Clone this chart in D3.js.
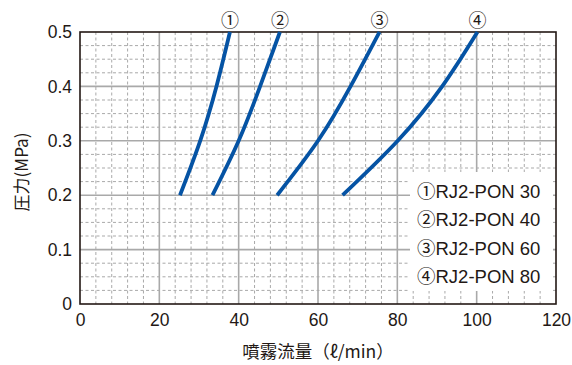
<!DOCTYPE html>
<html>
<head>
<meta charset="utf-8">
<script src="https://cdn.jsdelivr.net/npm/d3@7"></script>
<style>
  html, body { margin: 0; padding: 0; background: #fff; }
  svg { display: block; }
  text { font-family: "Liberation Sans", Arial, "Noto Sans CJK JP", sans-serif; fill: #231815; }
</style>
</head>
<body>
<svg id="chart" width="572" height="365"></svg>
<script>
// Spray flow rate vs. pressure for four nozzle models
const models = ["RJ2-PON 30", "RJ2-PON 40", "RJ2-PON 60", "RJ2-PON 80"];
const marks = ["①", "②", "③", "④"];
const pressures = [0.2, 0.3, 0.4, 0.5];
const flowPon30 = [25.2, 30.3, 34.4, 37.8];
const flowPon40 = [33.4, 40.0, 45.4, 50.4];
const flowPon60 = [49.7, 60.0, 68.2, 75.5];
const flowPon80 = [66.2, 80.1, 91.3, 100.2];
const xTicks = [0, 20, 40, 60, 80, 100, 120];
const yTicks = [0, 0.1, 0.2, 0.3, 0.4, 0.5];
const xLabel = "噴霧流量（ℓ/min）";
const yLabel = "圧力(MPa)";

const series = [flowPon30, flowPon40, flowPon60, flowPon80];

const svg = d3.select("#chart");
const m = { left: 80, top: 32, right: 556, bottom: 304 };

const x = d3.scaleLinear().domain([0, 120]).range([m.left, m.right]);
const y = d3.scaleLinear().domain([0, 0.5]).range([m.bottom, m.top]);

const grid = svg.append("g");
const ink = "#231815";
const gridColor = "#a9a9a9";

// minor dashed grid
const xMinor = d3.range(4, 120, 4).filter(v => v % 20 !== 0);
const yMinor = d3.range(1, 20).map(i => i * 0.025).filter((v, i) => (i + 1) % 4 !== 0);
grid.selectAll(".xm").data(xMinor).join("line")
  .attr("x1", d => x(d)).attr("x2", d => x(d))
  .attr("y1", m.top).attr("y2", m.bottom)
  .attr("stroke", gridColor).attr("stroke-width", 1).attr("stroke-dasharray", "3,2.5");
grid.selectAll(".ym").data(yMinor).join("line")
  .attr("x1", m.left).attr("x2", m.right)
  .attr("y1", d => y(d)).attr("y2", d => y(d))
  .attr("stroke", gridColor).attr("stroke-width", 1).attr("stroke-dasharray", "3,2.5");

// major solid grid
grid.selectAll(".xM").data(xTicks.slice(1, -1)).join("line")
  .attr("x1", d => x(d)).attr("x2", d => x(d))
  .attr("y1", m.top).attr("y2", m.bottom)
  .attr("stroke", gridColor).attr("stroke-width", 1.6);
grid.selectAll(".yM").data(yTicks.slice(1, -1)).join("line")
  .attr("x1", m.left).attr("x2", m.right)
  .attr("y1", d => y(d)).attr("y2", d => y(d))
  .attr("stroke", gridColor).attr("stroke-width", 1.6);

// legend panel covering the grid
const lg = svg.append("g");
lg.append("rect")
  .attr("x", 410).attr("y", 172).attr("width", 143).attr("height", 119)
  .attr("fill", "#fff");

// frame
svg.append("rect")
  .attr("x", m.left).attr("y", m.top)
  .attr("width", m.right - m.left).attr("height", m.bottom - m.top)
  .attr("fill", "none").attr("stroke", ink).attr("stroke-width", 1.6);

// curves
const line = d3.line()
  .x(d => x(d[0])).y(d => y(d[1]))
  .curve(d3.curveNatural);
svg.selectAll(".curve").data(series).join("path")
  .attr("d", s => line(s.map((v, i) => [v, pressures[i]])))
  .attr("fill", "none").attr("stroke", "#0553a4").attr("stroke-width", 3.8)
  .attr("stroke-linecap", "butt");

// curve markers above the frame
svg.selectAll(".mark").data(series).join("text")
  .attr("x", s => x(s[s.length - 1]))
  .attr("y", 27)
  .attr("text-anchor", "middle")
  .style("font-size", "18px")
  .style("font-family", "'Noto Sans CJK JP', sans-serif")
  .text((s, i) => marks[i]);

// axis tick labels
const axX = d3.axisBottom(x).tickValues(xTicks).tickSize(0).tickPadding(10).tickFormat(d3.format("d"));
const gx = svg.append("g").attr("transform", `translate(0,${m.bottom})`).call(axX);
gx.select(".domain").remove();
gx.selectAll("text").style("font-size", "17.5px").attr("fill", ink);

const axY = d3.axisLeft(y).tickValues(yTicks).tickSize(0).tickPadding(8)
  .tickFormat(d => d === 0 ? "0" : d3.format(".1f")(d));
const gy = svg.append("g").attr("transform", `translate(${m.left},0)`).call(axY);
gy.select(".domain").remove();
gy.selectAll("text").style("font-size", "17.5px").attr("fill", ink);

// legend entries
lg.selectAll(".item").data(models).join("text")
  .attr("x", 417)
  .attr("y", (d, i) => 198 + i * 28.4)
  .style("font-size", "18.5px")
  .text((d, i) => marks[i] + d);

// axis titles
svg.append("text")
  .attr("x", 318).attr("y", 358)
  .attr("text-anchor", "middle")
  .style("font-size", "17.5px")
  .style("font-family", "'Noto Sans CJK JP', sans-serif")
  .text(xLabel);

svg.append("text")
  .attr("transform", "translate(28,172) rotate(-90)")
  .attr("text-anchor", "middle")
  .style("font-size", "17px")
  .style("font-family", "'Noto Sans CJK JP', sans-serif")
  .text(yLabel);
</script>
</body>
</html>
